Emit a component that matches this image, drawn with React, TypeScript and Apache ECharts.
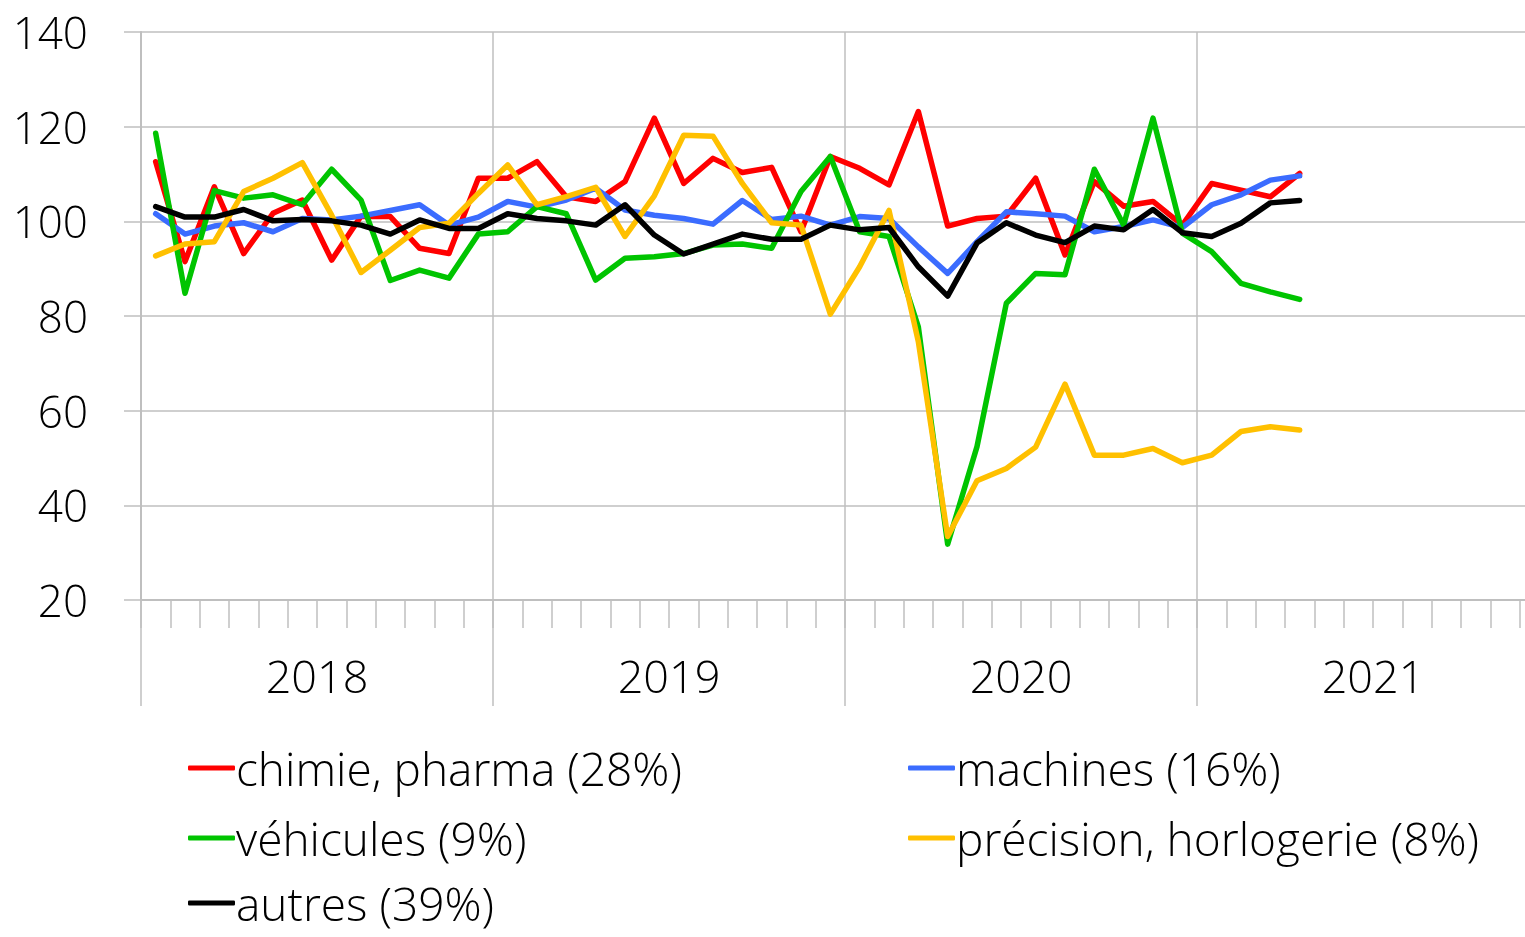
import React, { useEffect, useRef } from "react";
import * as echarts from "echarts";

const years = ["2018", "2019", "2020", "2021"];
const months: string[] = [];
for (const y of years) for (let m = 1; m <= 12; m++) months.push(`${y}-${m}`);

const chimie = [112.6, 91.5, 107.3, 93.2, 101.7, 104.5, 91.8, 101.1, 101, 94.3, 93.2, 109.1,
  109.1, 112.6, 105.2, 104.2, 108.4, 121.8, 108, 113.3, 110.3, 111.4, 97.8, 113.7,
  111.2, 107.7, 123.2, 99, 100.6, 101.1, 109.1, 92.9, 108.4, 103.2, 104.2, 99.2,
  108, 106.6, 105.2, 110.1];
const machines = [101.6, 97.3, 99, 99.7, 97.8, 100.6, 100.3, 101.1, 102.3, 103.5, 99.2, 100.9,
  104.2, 103, 104.5, 107, 102.4, 101.3, 100.6, 99.4, 104.4, 100.4, 101.1, 99.2,
  101, 100.6, 94.6, 89, 95.7, 102, 101.6, 101.1, 97.8, 98.9, 100.3, 98.7,
  103.5, 105.6, 108.7, 109.6];
const vehicules = [118.6, 84.8, 106.5, 104.9, 105.6, 103.5, 111, 104.5, 87.5, 89.7, 88, 97.3,
  97.8, 103.1, 101.6, 87.6, 92.2, 92.5, 93.2, 95, 95.2, 94.3, 106.3, 113.7,
  97.8, 96.8, 77.7, 31.8, 52.4, 82.7, 89, 88.7, 111, 99.2, 121.8, 97.5,
  93.6, 86.9, 85.1, 83.5];
const precision = [92.7, 95.2, 95.7, 106.3, 109.1, 112.4, 101.3, 89.2, 93.9, 98.7, 99.6, 105.9,
  111.9, 103.5, 105.2, 107.2, 96.8, 105.4, 118.2, 118, 108, 99.7, 99.2, 80.4,
  90.4, 102.3, 74.6, 33.4, 45.2, 47.8, 52.3, 65.6, 50.6, 50.6, 52, 49,
  50.6, 55.6, 56.6, 55.9];
const autres = [103.1, 100.9, 100.9, 102.5, 100.1, 100.4, 100.1, 99.2, 97.3, 100.3, 98.5, 98.5,
  101.6, 100.6, 100.1, 99.2, 103.5, 97.1, 93.1, 95.2, 97.3, 96.2, 96.2, 99.2,
  98.2, 98.7, 90.4, 84.2, 95.4, 99.7, 97.1, 95.5, 99, 98.2, 102.5, 97.6,
  96.8, 99.6, 103.9, 104.4];

const seriesDefs = [
  { name: "chimie, pharma (28%)", data: chimie, color: "#FF0000" },
  { name: "machines (16%)", data: machines, color: "#3B6CFF" },
  { name: "véhicules (9%)", data: vehicules, color: "#00C400" },
  { name: "précision, horlogerie (8%)", data: precision, color: "#FFC000" },
  { name: "autres (39%)", data: autres, color: "#000000" },
];
const legendPos = [
  { left: 188, top: 745 },
  { left: 908, top: 745 },
  { left: 188, top: 815 },
  { left: 908, top: 815 },
  { left: 188, top: 880 },
];

const FONT = "'Open Sans', 'DejaVu Sans', sans-serif";
const GRID = "#BFBFBF";

export default function App() {
  const ref = useRef<HTMLDivElement>(null);
  useEffect(() => {
    if (!ref.current) return;
    const chart = echarts.init(ref.current, undefined, { renderer: "svg" });
    chart.setOption({
      animation: false,
      textStyle: { fontFamily: FONT },
      grid: { left: 141, top: 32, right: 0, bottom: 337, containLabel: false },
      legend: seriesDefs.map((s, i) => ({
        data: [s.name],
        left: legendPos[i].left,
        top: legendPos[i].top,
        padding: 0,
        icon: "roundRect",
        itemWidth: 47,
        itemHeight: 5,
        itemGap: 0,
        selectedMode: false,
        textStyle: { fontFamily: FONT, fontSize: 46, color: "#000", fontWeight: 300, lineHeight: 44, padding: [0, 0, 0, -4] },
      })),
      xAxis: [
        {
          type: "category",
          data: months,
          boundaryGap: true,
          axisLine: { lineStyle: { color: GRID, width: 2 } },
          axisTick: { show: true, interval: 0, length: 28, lineStyle: { color: GRID, width: 1.5 } },
          axisLabel: { show: false },
          splitLine: { show: false },
        },
        {
          type: "category",
          data: years,
          position: "bottom",
          boundaryGap: true,
          axisLine: { show: false },
          axisTick: { show: true, interval: 0, length: 106, lineStyle: { color: GRID, width: 1.5 } },
          axisLabel: { show: true, interval: 0, margin: 53, fontSize: 45, fontWeight: 300, color: "#000", fontFamily: FONT },
          splitLine: { show: true, interval: 0, lineStyle: { color: GRID, width: 1.5 } },
        },
      ],
      yAxis: {
        type: "value",
        min: 20,
        max: 140,
        interval: 20,
        axisLine: { show: true, lineStyle: { color: GRID, width: 2 } },
        axisTick: { show: true, length: 17, lineStyle: { color: GRID, width: 1.5 } },
        axisLabel: { margin: 53, fontSize: 44, fontWeight: 300, color: "#000", fontFamily: FONT },
        splitLine: { show: true, lineStyle: { color: GRID, width: 1.5 } },
      },
      series: seriesDefs.map((s) => ({
        name: s.name,
        type: "line",
        xAxisIndex: 0,
        data: s.data,
        showSymbol: false,
        symbol: "none",
        color: s.color,
        lineStyle: { color: s.color, width: 5.5, cap: "round", join: "round" },
      })),
    });
    return () => chart.dispose();
  }, []);
  return <div ref={ref} style={{ position: "fixed", left: 0, top: 0, width: 1549, height: 937 }} />;
}
